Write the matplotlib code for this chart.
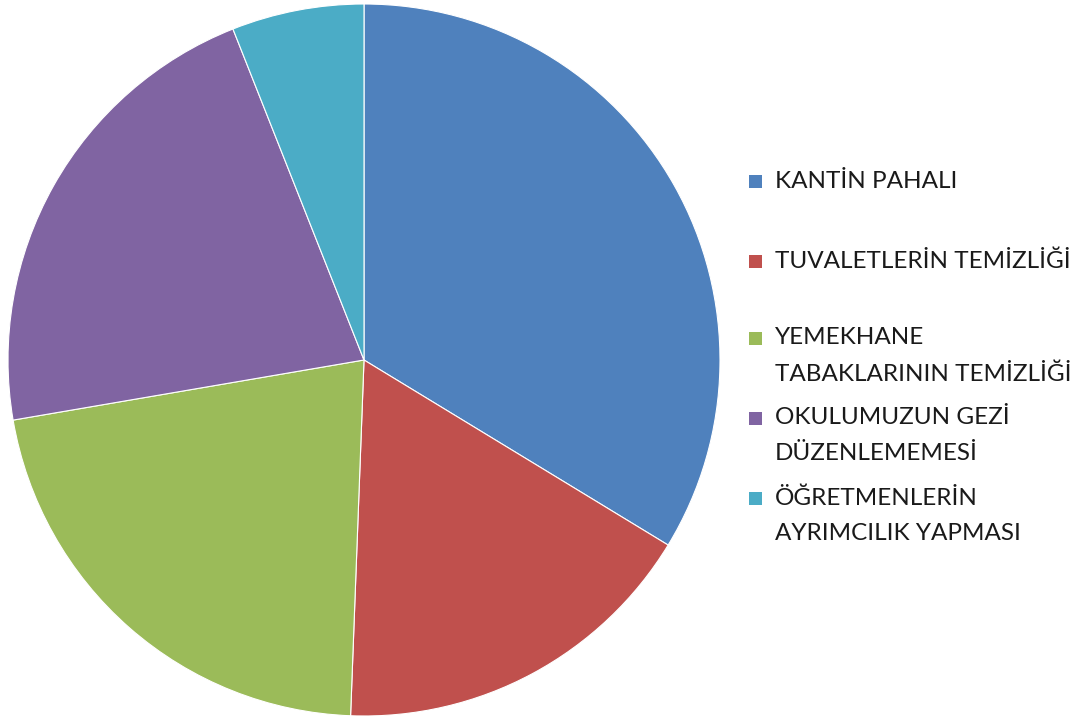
import matplotlib
matplotlib.use("Agg")
import matplotlib.pyplot as plt
from matplotlib.patches import Rectangle

categories = [
    "KANTİN PAHALI",
    "TUVALETLERİN TEMİZLİĞİ",
    "YEMEKHANE\nTABAKLARININ TEMİZLİĞİ",
    "OKULUMUZUN GEZİ\nDÜZENLEMEMESİ",
    "ÖĞRETMENLERİN\nAYRIMCILIK YAPMASI",
]
values = [33.7, 16.9, 21.7, 21.7, 6.0]
colors = ["#4F81BD", "#C0504D", "#9BBB59", "#8064A2", "#4BACC6"]

W, H = 1079, 718
fig = plt.figure(figsize=(W / 100, H / 100), dpi=100)
fig.patch.set_facecolor("white")

cx, cy, r = 364, 360, 356
ax = fig.add_axes([(cx - r) / W, (H - cy - r) / H, 2 * r / W, 2 * r / H])
ax.pie(values, colors=colors, startangle=90, counterclock=False, radius=1,
       wedgeprops=dict(edgecolor="white", linewidth=0.8))
ax.set_xlim(-1, 1)
ax.set_ylim(-1, 1)
ax.set_aspect("equal")
ax.axis("off")

# legend drawn manually
first_line_y = [181, 261, 338, 418, 498]
line_gap = 36
for lab, col, y0 in zip(categories, colors, first_line_y):
    fig.patches.append(Rectangle(((749) / W, (H - y0 - 7) / H), 13 / W, 13 / H,
                                 transform=fig.transFigure, facecolor=col,
                                 edgecolor="none"))
    for i, line in enumerate(lab.split("\n")):
        fig.text(775 / W, (H - (y0 + i * line_gap)) / H, line,
                 ha="left", va="center", fontsize=17.5, family="Lato",
                 color="#1a1a1a")

fig.savefig("out.png", dpi=100)
